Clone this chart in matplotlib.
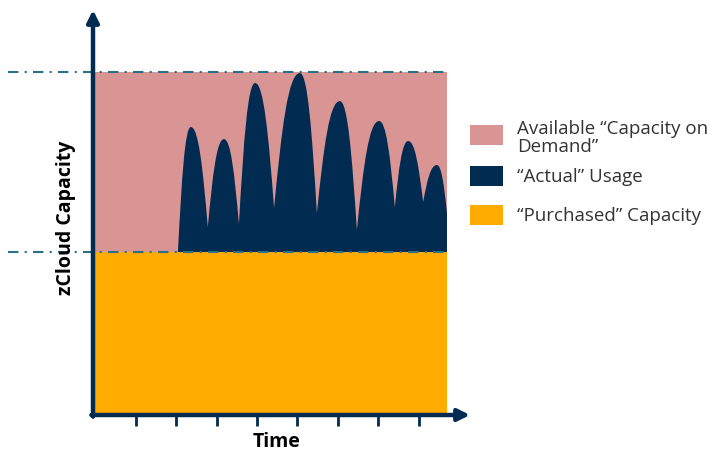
import numpy as np
import matplotlib.pyplot as plt
from matplotlib.path import Path
from matplotlib.patches import PathPatch, Rectangle

# capacity levels (purchased = 1.0)
purchased = 1.0
max_capacity = 2.104
t_end = 8.70

# actual usage: start, alternating peaks / troughs, end
usage_t = [2.04, 2.36, 2.78, 3.18, 3.55, 3.95, 4.42, 5.06, 5.48, 6.05, 6.47, 7.02, 7.41, 7.74, 8.11, 8.45, 8.70]
usage_y = [1.00, 1.767, 1.153, 1.693, 1.172, 2.037, 1.270, 2.098, 1.239, 1.926, 1.135, 1.804, 1.276, 1.681, 1.307, 1.534, 1.24]

ticks = [1, 2, 3, 4, 5, 6, 7, 8]

pink = '#D99594'
navy = '#012B50'
orange = '#FFAB00'
teal = '#2B7085'

plt.rcParams['font.family'] = ['Open Sans', 'DejaVu Sans']

fig = plt.figure(figsize=(7.21, 4.51), dpi=100)
W, H = 721, 451
# axes spans pixels x 93..470, y 10..415
ax = fig.add_axes([93 / W, (H - 415) / H, (470 - 93) / W, (415 - 10) / H])
x0 = -0.062
ax.set_xlim(x0, 9.27)
ax.set_ylim(0, 2.485)
for s in ax.spines.values():
    s.set_visible(False)

ax.add_patch(Rectangle((x0, 0), t_end - x0, purchased, facecolor=orange, edgecolor='none', zorder=1))
ax.add_patch(Rectangle((x0, purchased), t_end - x0, max_capacity - purchased, facecolor=pink, edgecolor='none', zorder=1))

# usage shape: rounded peaks, sharp troughs
verts = [(usage_t[0], purchased)]
codes = [Path.MOVETO]
for i in range(len(usage_t) - 1):
    ta, ya = usage_t[i], usage_y[i]
    tb, yb = usage_t[i + 1], usage_y[i + 1]
    dx, dy = tb - ta, yb - ya
    if dy > 0:  # rising to a peak
        c1 = (ta + 0.3 * dx, ya + 0.6 * dy)
        c2 = (tb - 0.45 * dx, yb)
    else:  # falling to a trough
        c1 = (ta + 0.45 * dx, ya)
        c2 = (tb - 0.3 * dx, yb - 0.6 * dy)
    verts += [c1, c2, (tb, yb)]
    codes += [Path.CURVE4] * 3
verts += [(usage_t[-1], purchased), (usage_t[0], purchased)]
codes += [Path.LINETO, Path.CLOSEPOLY]
ax.add_patch(PathPatch(Path(verts, codes), facecolor=navy, edgecolor='none', zorder=2))

# capacity guide lines
for yv in [purchased, max_capacity]:
    ax.plot([-2.17, t_end], [yv, yv], color=teal, lw=1.5, ls=(0, (5, 3, 1, 3)),
            clip_on=False, zorder=3)

# axes arrows
ax.annotate('', xy=(x0, 2.485), xytext=(x0, -0.01),
            arrowprops=dict(arrowstyle='-|>,head_width=0.35,head_length=0.7', color=navy, lw=3.2,
                            shrinkA=0, shrinkB=0), annotation_clip=False, zorder=5)
ax.annotate('', xy=(9.27, 0), xytext=(x0 - 0.04, 0),
            arrowprops=dict(arrowstyle='-|>,head_width=0.35,head_length=0.7', color=navy, lw=3.2,
                            shrinkA=0, shrinkB=0), annotation_clip=False, zorder=5)

ax.set_xticks(ticks)
ax.set_xticklabels([])
ax.set_yticks([])
ax.tick_params(axis='x', direction='out', length=8, width=2, color=navy)

fig.text(277 / W, 1 - 442 / H, 'Time', fontsize=14, fontweight='bold', ha='center', va='center')
fig.text(66 / W, 1 - 218 / H, 'zCloud Capacity', rotation=90, fontsize=14, fontweight='bold',
         ha='center', va='center')

# legend
legend_items = [('Available \u201cCapacity on\nDemand\u201d', pink, 135),
                ('\u201cActual\u201d Usage', navy, 176),
                ('\u201cPurchased\u201d Capacity', orange, 215)]
for label, col, yc in legend_items:
    fig.patches.append(Rectangle((470 / W, 1 - (yc + 10) / H), 33 / W, 20 / H, facecolor=col,
                                 edgecolor='none', transform=fig.transFigure, figure=fig))
for label, col, yc in legend_items:
    ty = yc + 1 if '\n' not in label else 138
    fig.text(517 / W, 1 - ty / H, label, fontsize=13.5, color='#333333', ha='left', va='center',
             linespacing=1.05)

fig.savefig('out.png', dpi=100)
